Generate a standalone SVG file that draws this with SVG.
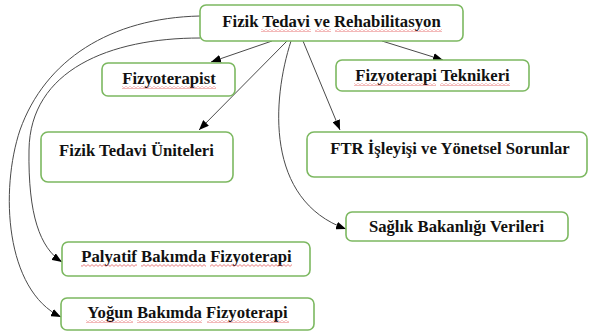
<svg xmlns="http://www.w3.org/2000/svg" width="589" height="333" viewBox="0 0 589 333">
<style>
.box{fill:#ffffff;stroke:#7cb860;stroke-width:1.6}
.lbl{font-family:"Liberation Serif","Times New Roman",serif;font-weight:bold;font-size:16.7px;fill:#111111;text-anchor:middle}
.edge{fill:none;stroke:#4a4a4a;stroke-width:1}
.sp{fill:url(#wave)}
</style>
<defs>
<marker id="arr" markerUnits="userSpaceOnUse" markerWidth="11" markerHeight="8" refX="10" refY="4" orient="auto">
<path d="M0,0 L10,4 L0,8 Z" fill="#000000"/>
</marker>
<pattern id="wave" width="4" height="3" patternUnits="userSpaceOnUse">
<path d="M0,0.6 L2,2.4 L4,0.6" fill="none" stroke="#e04848" stroke-width="0.7"/>
</pattern>
</defs>
<rect width="589" height="333" fill="#ffffff"/>
<g id="connectors">
<path class="edge" d="M272,41 L211,62" marker-end="url(#arr)"/>
<path class="edge" d="M287,41 L199,130" marker-end="url(#arr)"/>
<path class="edge" d="M382,41 L443,60" marker-end="url(#arr)"/>
<path class="edge" d="M303,41 L340,130" marker-end="url(#arr)"/>
<path class="edge" d="M291,41 C272,100 265,200 346,229" marker-end="url(#arr)"/>
<path class="edge" d="M200,16 C110,18 45,60 20,130 C0,190 5,290 61,317" marker-end="url(#arr)"/>
<path class="edge" d="M200,38 C110,38 30,70 29,150 C28,215 40,248 62,262" marker-end="url(#arr)"/>
</g>
<g id="n-ftr-main">
<rect class="box" x="200" y="5" width="263" height="36" rx="6"/>
<text class="lbl" x="331.5" y="27">Fizik Tedavi ve Rehabilitasyon</text>
<rect class="sp" x="261" y="29" width="50" height="3"/>
<rect class="sp" x="315" y="29" width="16" height="3"/>
<rect class="sp" x="335" y="29" width="107" height="3"/>
</g>
<g id="n-fizyoterapist">
<rect class="box" x="102" y="63" width="133" height="33" rx="6"/>
<text class="lbl" x="169" y="84">Fizyoterapist</text>
<rect class="sp" x="122" y="86" width="94" height="3"/>
</g>
<g id="n-teknikeri">
<rect class="box" x="336" y="60" width="193" height="31" rx="6"/>
<text class="lbl" x="432.5" y="81">Fizyoterapi Teknikeri</text>
<rect class="sp" x="354" y="83" width="82" height="3"/>
<rect class="sp" x="440" y="83" width="70" height="3"/>
</g>
<g id="n-uniteleri">
<rect class="box" x="41" y="132" width="192" height="50" rx="7"/>
<text class="lbl" x="136.5" y="156">Fizik Tedavi Üniteleri</text>
</g>
<g id="n-ftr-sorunlar">
<rect class="box" x="307" y="132" width="280" height="45" rx="7"/>
<text class="lbl" x="450" y="154">FTR İşleyişi ve Yönetsel Sorunlar</text>
</g>
<g id="n-saglik">
<rect class="box" x="346" y="212" width="222" height="29" rx="6"/>
<text class="lbl" x="456.5" y="232">Sağlık Bakanlığı Verileri</text>
</g>
<g id="n-palyatif">
<rect class="box" x="62" y="242" width="248" height="34" rx="6"/>
<text class="lbl" x="186.5" y="262">Palyatif Bakımda Fizyoterapi</text>
<rect class="sp" x="81" y="264" width="56" height="3"/>
<rect class="sp" x="141" y="264" width="65" height="3"/>
<rect class="sp" x="210" y="264" width="82" height="3"/>
</g>
<g id="n-yogun">
<rect class="box" x="61" y="298" width="253" height="32" rx="6"/>
<text class="lbl" x="187.5" y="318">Yoğun Bakımda Fizyoterapi</text>
<rect class="sp" x="86" y="320" width="47" height="3"/>
<rect class="sp" x="137" y="320" width="65" height="3"/>
<rect class="sp" x="207" y="320" width="82" height="3"/>
</g>
</svg>
